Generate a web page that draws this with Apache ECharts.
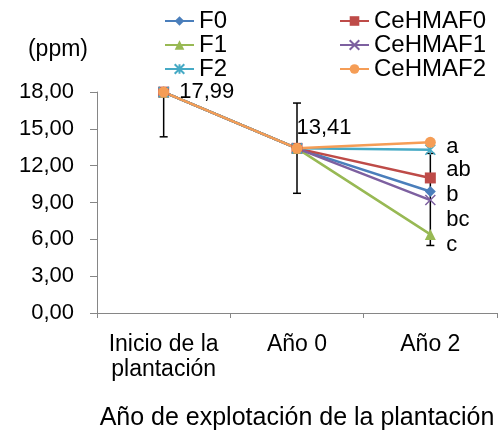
<!DOCTYPE html>
<html>
<head>
<meta charset="utf-8">
<script src="https://cdn.jsdelivr.net/npm/echarts@6/dist/echarts.min.js"></script>
<style>html,body{margin:0;padding:0;background:#fff;}#c{width:500px;height:437px;}</style>
</head>
<body>
<div id="c"></div>
<script>
var categories = ['Inicio de la\nplantación', 'Año 0', 'Año 2'];
var seriesNames = ['F0', 'CeHMAF0', 'F1', 'CeHMAF1', 'F2', 'CeHMAF2'];
var F0 = [17.99, 13.41, 9.9];
var CeHMAF0 = [17.99, 13.41, 11.0];
var F1 = [17.99, 13.41, 6.4];
var CeHMAF1 = [17.99, 13.41, 9.2];
var F2 = [17.99, 13.41, 13.3];
var CeHMAF2 = [17.99, 13.41, 13.9];
// error bars: [category index, low, high]
var errorBars = [[0, 14.35, 18.0], [1, 9.75, 17.1], [2, 5.5, 13.0]];
// significance letters at Año 2
var letters = ['a', 'ab', 'b', 'bc', 'c'];
var letterValues = [13.55, 11.65, 9.6, 7.57, 5.54];
var yTicks = {min: 0, max: 18, interval: 3};

var FONT = 'Liberation Sans, Arial, sans-serif';
var colors = {F0: '#4A7EBB', CeHMAF0: '#BE4B48', F1: '#98B954', CeHMAF1: '#7D60A0', F2: '#46AAC5', CeHMAF2: '#F59D56'};
var symbols = {
  F0: 'diamond', CeHMAF0: 'rect', F1: 'triangle',
  CeHMAF1: 'path://M0,0L10,10M10,0L0,10',
  F2: 'path://M0,0L10,10M10,0L0,10M5,0L5,10',
  CeHMAF2: 'circle'
};
var values = {F0: F0, CeHMAF0: CeHMAF0, F1: F1, CeHMAF1: CeHMAF1, F2: F2, CeHMAF2: CeHMAF2};

var series = seriesNames.map(function (n) {
  var stroke = (n === 'CeHMAF1' || n === 'F2');
  var s = {
    name: n, type: 'line', data: values[n], z: 3,
    symbol: symbols[n], symbolSize: stroke ? 10 : 11,
    showAllSymbol: true,
    lineStyle: {color: colors[n], width: 2.5},
    itemStyle: {color: colors[n], borderColor: colors[n], borderWidth: stroke ? 1.5 : 0},
    emphasis: {disabled: true},
    animation: false
  };
  if (n === 'CeHMAF2') {
    s.label = {
      show: true, fontFamily: FONT, fontSize: 22, color: '#000',
      formatter: function (p) { return p.dataIndex < 2 ? String(p.value.toFixed(2)).replace('.', ',') : ''; }
    };
    s.data = values[n].map(function (v, i) {
      if (i === 0) return {value: v, label: {position: 'right', offset: [5, 0]}};
      if (i === 1) return {value: v, label: {position: 'right', offset: [-11, -20]}};
      return {value: v};
    });
  }
  return s;
});

series.unshift({
  type: 'custom', name: 'err', z: 1, animation: false, silent: true,
  data: errorBars,
  renderItem: function (params, api) {
    var x = api.value(0);
    var lo = api.coord([x, api.value(1)]);
    var hi = api.coord([x, api.value(2)]);
    var w = 4;
    var st = {stroke: '#000', lineWidth: 1.5};
    return {type: 'group', children: [
      {type: 'line', shape: {x1: lo[0], y1: lo[1], x2: hi[0], y2: hi[1]}, style: st},
      {type: 'line', shape: {x1: lo[0] - w, y1: lo[1], x2: lo[0] + w, y2: lo[1]}, style: st},
      {type: 'line', shape: {x1: hi[0] - w, y1: hi[1], x2: hi[0] + w, y2: hi[1]}, style: st}
    ]};
  }
});

series.push({
  type: 'scatter', name: 'letters', z: 5, silent: true, animation: false,
  symbolSize: 0,
  itemStyle: {opacity: 1, color: '#000'},
  data: letters.map(function (l, i) { return {value: [2, letterValues[i]], name: l}; }),
  label: {show: true, position: 'right', distance: 16, formatter: '{b}', fontFamily: FONT, fontSize: 22, color: '#000', opacity: 1}
});

var chart = echarts.init(document.getElementById('c'), null, {renderer: 'canvas'});
chart.setOption({
  animation: false,
  backgroundColor: '#fff',
  grid: {left: 97, right: 3, top: 92, bottom: 124, containLabel: false, outerBoundsMode: 'none'},
  legend: [
    {data: ['F0', 'F1', 'F2'], orient: 'vertical', left: 159, top: 4, itemWidth: 29, itemHeight: 12, itemGap: 0,
     textStyle: {fontFamily: FONT, fontSize: 24, color: '#000', lineHeight: 22.5}},
    {data: ['CeHMAF0', 'CeHMAF1', 'CeHMAF2'], orient: 'vertical', left: 334, top: 4, itemWidth: 29, itemHeight: 12, itemGap: 0,
     textStyle: {fontFamily: FONT, fontSize: 24, color: '#000', lineHeight: 22.5}}
  ],
  xAxis: {
    type: 'category', data: categories, boundaryGap: true,
    name: 'Año de explotación de la plantación', nameLocation: 'middle', nameGap: 93,
    nameTextStyle: {fontFamily: FONT, fontSize: 25, color: '#000'},
    axisLine: {lineStyle: {color: '#868686', width: 1}},
    axisTick: {show: true, length: 5, lineStyle: {color: '#868686'}},
    axisLabel: {fontFamily: FONT, fontSize: 23, color: '#000', margin: 19, lineHeight: 25, interval: 0},
    splitLine: {show: false}
  },
  yAxis: {
    type: 'value', min: yTicks.min, max: yTicks.max, interval: yTicks.interval,
    name: '(ppm)', nameLocation: 'end', nameGap: 42,
    nameTextStyle: {fontFamily: FONT, fontSize: 23, color: '#000', align: 'right', verticalAlign: 'middle', padding: [0, 9, 0, 0]},
    axisLine: {show: true, lineStyle: {color: '#868686', width: 1}},
    axisTick: {show: true, length: 7, lineStyle: {color: '#868686'}},
    axisLabel: {fontFamily: FONT, fontSize: 22, color: '#000', margin: 23,
      formatter: function (v) { return v.toFixed(2).replace('.', ','); }},
    splitLine: {show: false}
  },
  series: series
});
</script>
</body>
</html>
